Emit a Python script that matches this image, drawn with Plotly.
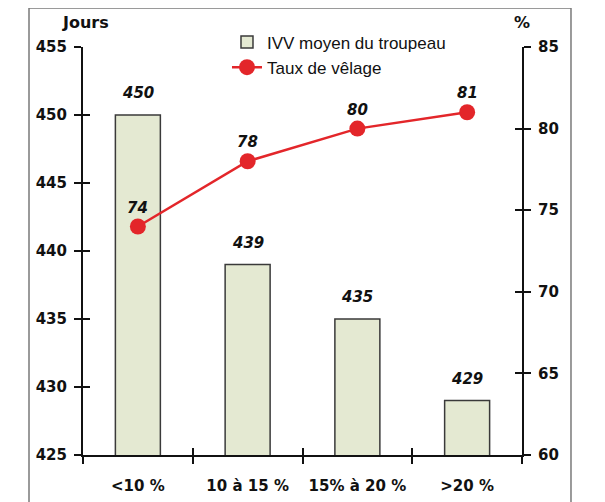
import plotly.graph_objects as go

categories = ["<10 %", "10 à 15 %", "15% à 20 %", ">20 %"]
ivv_days = [450, 439, 435, 429]
calving_rate = [74, 78, 80, 81]
left_ticks = [425, 430, 435, 440, 445, 450, 455]
right_ticks = [60, 65, 70, 75, 80, 85]
boundary_ticks = [0.5, 1.5, 2.5]

BOLD = "DejaVu Sans, Liberation Sans, Arial, sans-serif"
REG = "Liberation Sans, Arial, sans-serif"
RED = "#E3262A"
BAR_FILL = "#E4E9D2"
INK = "#111111"

fig = go.Figure()
fig.add_trace(go.Bar(
    x=categories, y=ivv_days, name="IVV moyen du troupeau", width=0.41,
    marker=dict(color=BAR_FILL, line=dict(color="#3a3a3a", width=1.5)),
    yaxis="y", hoverinfo="skip"))
fig.add_trace(go.Scatter(
    x=categories, y=calving_rate, name="Taux de vêlage", mode="lines+markers",
    line=dict(color=RED, width=2.5), marker=dict(size=16, color=RED),
    yaxis="y2", hoverinfo="skip"))
# empty traces so that the inner-tick overlay axes are drawn
fig.add_trace(go.Scatter(x=[], y=[], xaxis="x2", yaxis="y3", showlegend=False))
fig.add_trace(go.Scatter(x=[], y=[], xaxis="x2", yaxis="y4", showlegend=False))

lab_font = dict(family=BOLD, size=15, color=INK, weight="bold", style="italic")
ann = []
for c, v in zip(categories, ivv_days):
    ann.append(dict(x=c, y=v, xref="x", yref="y", text=str(v),
                    showarrow=False, yshift=22, font=lab_font))
for c, v in zip(categories, calving_rate):
    ann.append(dict(x=c, y=v, xref="x", yref="y2", text=str(v),
                    showarrow=False, yshift=19, font=lab_font))
title_font = dict(family=BOLD, size=16, color=INK, weight="bold")
ann.append(dict(x=0.005, y=1.061, xref="paper", yref="paper", text="Jours",
                xanchor="center", yanchor="middle", showarrow=False, font=title_font))
ann.append(dict(x=1.0, y=1.059, xref="paper", yref="paper", text="%",
                xanchor="center", yanchor="middle", showarrow=False, font=title_font))

tickfont = dict(family=BOLD, size=15, color=INK, weight="bold")
common = dict(showgrid=False, zeroline=False, showline=True, linecolor=INK, linewidth=2,
              ticks="outside", ticklen=7, tickwidth=2, tickcolor=INK, tickfont=tickfont,
              automargin=False)
inner = dict(showticklabels=False, showgrid=False, zeroline=False, showline=False,
             ticks="inside", ticklen=7, tickwidth=2, tickcolor=INK, automargin=False)

fig.update_layout(
    width=597, height=494,
    margin=dict(l=75, r=83, t=39, b=47),
    paper_bgcolor="white", plot_bgcolor="white",
    showlegend=True,
    legend=dict(x=0.328, y=1.055, xanchor="left", yanchor="top",
                font=dict(family=REG, size=17, color=INK),
                bgcolor="rgba(0,0,0,0)", tracegroupgap=0),
    xaxis=dict(type="category", range=[-0.5, 3.5], tickson="boundaries",
               ticklabelstandoff=16, **common),
    yaxis=dict(range=[425, 455], tickvals=left_ticks, ticklabelstandoff=4, **common),
    yaxis2=dict(range=[60, 85], tickvals=right_ticks, overlaying="y", side="right",
                anchor="x", ticklabelstandoff=4, **common),
    xaxis2=dict(range=[-0.5, 3.5], tickvals=boundary_ticks, overlaying="x", anchor="y3", **inner),
    yaxis3=dict(range=[425, 455], tickvals=left_ticks, overlaying="y", anchor="x2", **inner),
    yaxis4=dict(range=[60, 85], tickvals=right_ticks, overlaying="y", side="right",
                anchor="x2", **inner),
    annotations=ann,
    shapes=[dict(type="rect", xref="paper", yref="paper", x0=-0.123, x1=1.1116,
                 y0=-0.2, y1=1.0956, line=dict(color="#7a7a7a", width=1.5),
                 fillcolor="rgba(0,0,0,0)", layer="below")],
)

fig.write_html("out.html")
